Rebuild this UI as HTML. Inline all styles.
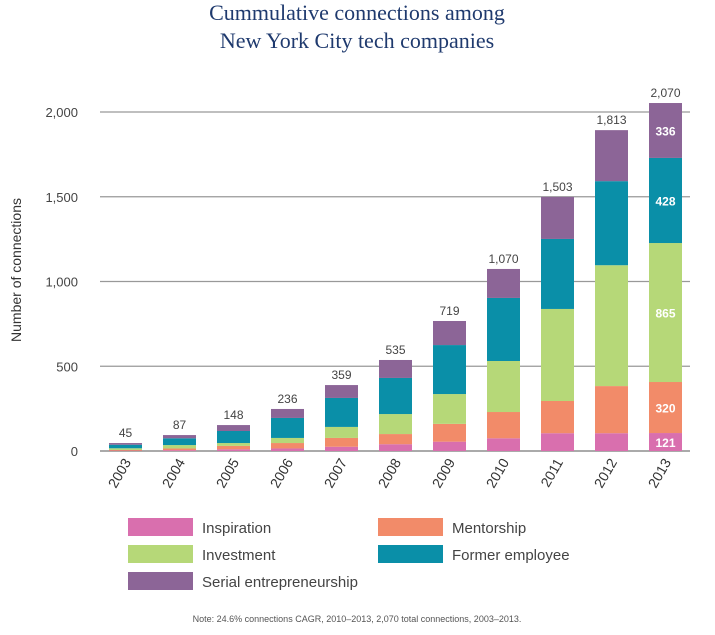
<!DOCTYPE html>
<html><head><meta charset="utf-8"><style>
body{margin:0;background:#fff;width:715px;height:630px;overflow:hidden;font-family:"Liberation Sans",sans-serif}
</style></head><body>
<svg width="715" height="630">
<text x="357" y="20" text-anchor="middle" font-family="Liberation Serif" font-size="22" fill="#1f3a6e">Cummulative connections among</text>
<text x="357" y="48" text-anchor="middle" font-family="Liberation Serif" font-size="22" fill="#1f3a6e">New York City tech companies</text>
<text transform="translate(21,270) rotate(-90)" text-anchor="middle" font-size="14" fill="#333">Number of connections</text>
<g id="grid"></g><g id="bars"></g><g id="labels"></g>
<g font-size="15" fill="#444">
<rect x="128" y="518" width="65" height="18" fill="#d96fae"/><text x="202" y="533">Inspiration</text>
<rect x="378" y="518" width="65" height="18" fill="#f28b69"/><text x="452" y="533">Mentorship</text>
<rect x="128" y="545" width="65" height="18" fill="#b6d878"/><text x="202" y="560">Investment</text>
<rect x="378" y="545" width="65" height="18" fill="#0a8fa8"/><text x="452" y="560">Former employee</text>
<rect x="128" y="572" width="65" height="18" fill="#8c6597"/><text x="202" y="587">Serial entrepreneurship</text>
</g>
<text x="357" y="622" text-anchor="middle" font-size="9" fill="#555">Note: 24.6% connections CAGR, 2010–2013, 2,070 total connections, 2003–2013.</text>
</svg>
<script>
const years=["2003","2004","2005","2006","2007","2008","2009","2010","2011","2012","2013"];
const inspiration=[2,5,10,15,25,40,55,75,105,105,106];
const mentorship=[4,10,20,32,52,60,105,155,190,278,301];
const investment=[10,20,17,30,65,118,176,301,543,713,820];
const former=[21,40,71,118,171,213,289,372,413,496,502];
const serial=[10,19,35,53,76,106,142,171,248,301,324];
const totals=["45","87","148","236","359","535","719","1,070","1,503","1,813","2,070"];
const lastLabels=["121","320","865","428","336"];
const ticks=[0,500,1000,1500,2000];
const tickLabels=["0","500","1,000","1,500","2,000"];
const NS="http://www.w3.org/2000/svg";
const y=v=>451-v*0.1695;
const x=i=>125.5+i*54;
function mk(t,a,p){const e=document.createElementNS(NS,t);for(const k in a)e.setAttribute(k,a[k]);p.appendChild(e);return e;}
const G=document.getElementById('grid'),B=document.getElementById('bars'),L=document.getElementById('labels');
ticks.forEach((t,i)=>{
 const l=mk('line',{x1:100,x2:690,y1:y(t),y2:y(t),stroke:t==0?'#777':'#999','stroke-width':1.3},G);
 
 
 const tx=mk('text',{x:78,y:y(t)+5,'text-anchor':'end','font-size':13,fill:'#444'},G);tx.textContent=tickLabels[i];
 
 
});
const series=[[inspiration,'#d96fae','inspiration'],[mentorship,'#f28b69','mentorship'],[investment,'#b6d878','investment'],[former,'#0a8fa8','former-employee'],[serial,'#8c6597','serial']];
years.forEach((yr,i)=>{
 let c=0;
 series.forEach(([arr,col,nm],si)=>{
  const v=arr[i];
  const r=mk('rect',{x:x(i)-16.5,y:y(c+v),width:33,height:y(c)-y(c+v),fill:col},B);
  
  
  if(i==years.length-1){
   const t=mk('text',{x:x(i),y:(y(c)+y(c+v))/2+5,'text-anchor':'middle','font-size':12,'font-weight':'bold',fill:'#fff'},L);t.textContent=lastLabels[si];
   
   
  }
  c+=v;
 });
 const t=mk('text',{x:x(i),y:y(c)-6,'text-anchor':'middle','font-size':12,fill:'#444'},L);t.textContent=totals[i];
 
 
 const xl=mk('text',{transform:`translate(${x(i)+6},462) rotate(-60)`,'text-anchor':'end','font-size':14,fill:'#333'},L);xl.textContent=yr;
 
 
});
</script>
</body></html>
